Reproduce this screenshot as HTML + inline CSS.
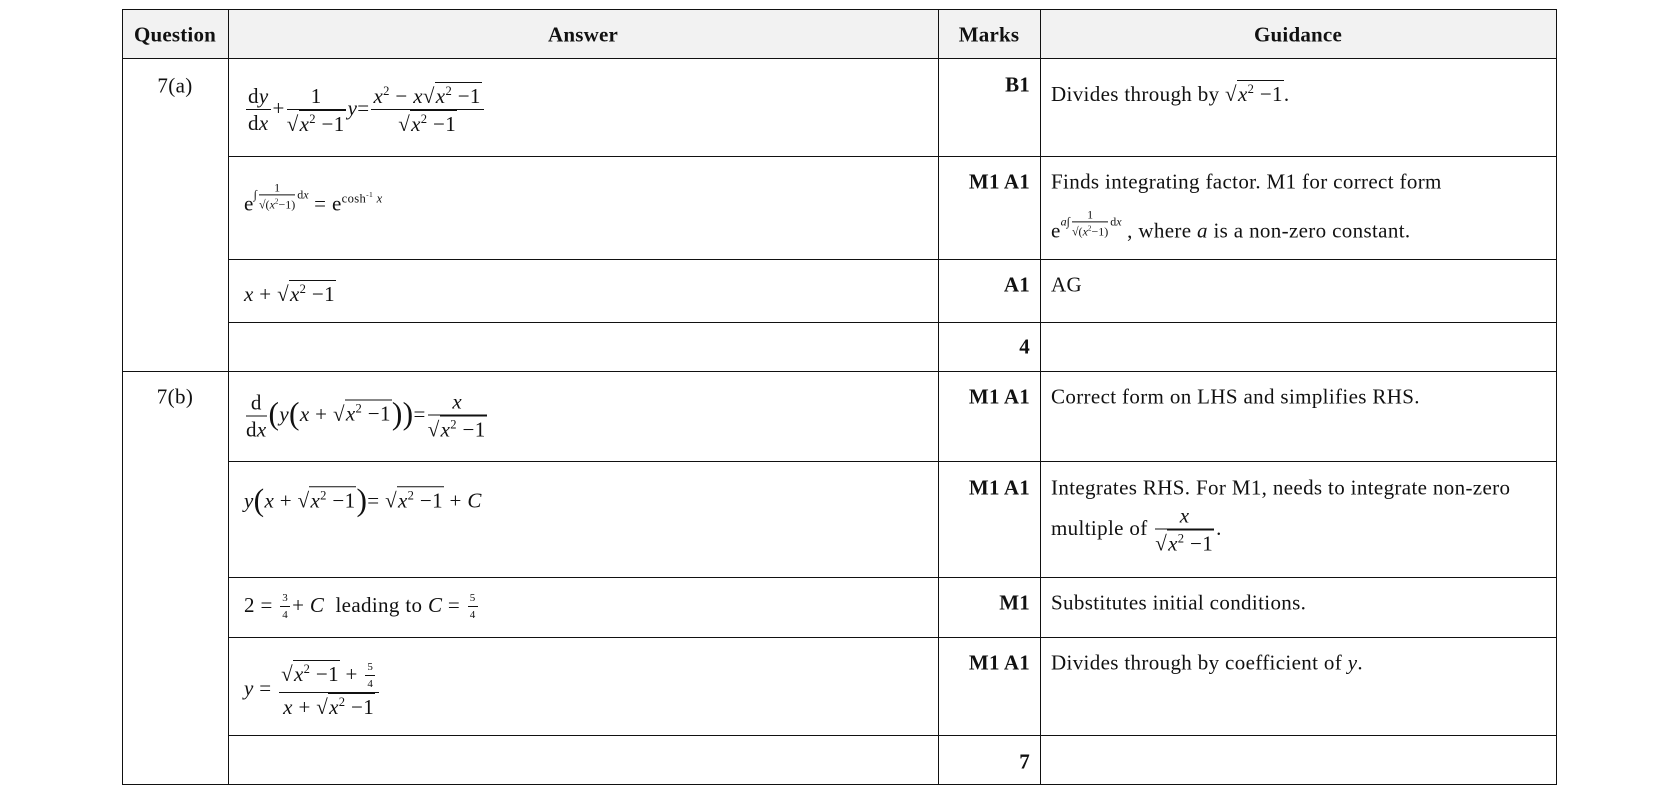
<!DOCTYPE html>
<html><head><meta charset="utf-8"><style>
body{margin:0;width:1680px;height:796px;background:#fff;position:relative;overflow:hidden;font-family:"Liberation Serif",serif;font-size:21px;letter-spacing:0.35px;color:#111}
.h{position:absolute;background:#111;height:1.3px}
.v{position:absolute;background:#111;width:1.3px}
.c{position:absolute;transform:translateY(-50%);white-space:nowrap;line-height:1}
.b{font-weight:bold;letter-spacing:0.2px}
.r{text-align:right}
i{font-style:italic}
.fr{display:inline-flex;flex-direction:column;vertical-align:middle;text-align:center;margin:0 2px}
.fr>span:first-child{border-bottom:1.3px solid #111;padding:0 2px 2px}
.fr>span:last-child{padding-top:3px}
.sq{border-top:1.3px solid #111;padding:1px 1px 0}
.sm{font-size:12px;letter-spacing:0}
.sm .fr>span:first-child{padding:0 1px 1px}
sup{font-size:0.6em}
.p{font-size:1.5em;vertical-align:-3px}
</style></head><body>
<div style="position:absolute;left:122px;top:10px;width:1434px;height:48px;background:#f2f2f2"></div>
<div class="h" style="left:122px;top:9px;width:1435px"></div>
<div class="h" style="left:122px;top:58px;width:1435px"></div>
<div class="h" style="left:228px;top:156px;width:1329px"></div>
<div class="h" style="left:228px;top:259px;width:1329px"></div>
<div class="h" style="left:228px;top:322px;width:1329px"></div>
<div class="h" style="left:122px;top:371px;width:1435px"></div>
<div class="h" style="left:228px;top:461px;width:1329px"></div>
<div class="h" style="left:228px;top:577px;width:1329px"></div>
<div class="h" style="left:228px;top:637px;width:1329px"></div>
<div class="h" style="left:228px;top:735px;width:1329px"></div>
<div class="h" style="left:122px;top:784px;width:1435px"></div>
<div class="v" style="left:122px;top:9px;height:776px"></div>
<div class="v" style="left:228px;top:9px;height:776px"></div>
<div class="v" style="left:938px;top:9px;height:776px"></div>
<div class="v" style="left:1040px;top:9px;height:776px"></div>
<div class="v" style="left:1556px;top:9px;height:776px"></div>

<div class="c b" style="left:122px;width:106px;text-align:center;top:35px">Question</div>
<div class="c b" style="left:228px;width:710px;text-align:center;top:35px">Answer</div>
<div class="c b" style="left:938px;width:102px;text-align:center;top:35px">Marks</div>
<div class="c b" style="left:1040px;width:516px;text-align:center;top:35px">Guidance</div>

<div class="c" style="left:122px;width:106px;text-align:center;top:86px">7(a)</div>
<div class="c" style="left:244px;top:110px"><span class="fr"><span>d<i>y</i></span><span>d<i>x</i></span></span>+<span class="fr"><span>1</span><span>√<span class="sq"><i>x</i><sup>2</sup> −1</span></span></span><i>y</i>=<span class="fr"><span><i>x</i><sup>2</sup> − <i>x</i>√<span class="sq"><i>x</i><sup>2</sup> −1</span></span><span>√<span class="sq"><i>x</i><sup>2</sup> −1</span></span></span></div>
<div class="c b r" style="left:938px;width:92px;top:85px">B1</div>
<div class="c" style="left:1051px;top:94px">Divides through by √<span class="sq"><i>x</i><sup>2</sup> −1</span>.</div>

<div class="c" style="left:244px;top:198px">e<span class="sm" style="vertical-align:12px">∫<span class="fr"><span>1</span><span>√(<i>x</i><sup>2</sup>−1)</span></span>d<i>x</i></span> = e<sup>cosh<sup>-1</sup> <i>x</i></sup></div>
<div class="c b r" style="left:938px;width:92px;top:182px">M1 A1</div>
<div class="c" style="left:1051px;top:182px">Finds integrating factor. M1 for correct form</div>
<div class="c" style="left:1051px;top:225px">e<span class="sm" style="vertical-align:12px"><i>a</i>∫<span class="fr"><span>1</span><span>√(<i>x</i><sup>2</sup>−1)</span></span>d<i>x</i></span> , where <i>a</i> is a non-zero constant.</div>

<div class="c" style="left:244px;top:294px"><i>x</i> + √<span class="sq"><i>x</i><sup>2</sup> −1</span></div>
<div class="c b r" style="left:938px;width:92px;top:285px">A1</div>
<div class="c" style="left:1051px;top:285px">AG</div>

<div class="c b r" style="left:938px;width:92px;top:347px">4</div>

<div class="c" style="left:122px;width:106px;text-align:center;top:397px">7(b)</div>
<div class="c" style="left:244px;top:416px"><span class="fr"><span>d</span><span>d<i>x</i></span></span><span class="p">(</span><i>y</i><span class="p">(</span><i>x</i> + √<span class="sq"><i>x</i><sup>2</sup> −1</span><span class="p">))</span>=<span class="fr"><span><i>x</i></span><span>√<span class="sq"><i>x</i><sup>2</sup> −1</span></span></span></div>
<div class="c b r" style="left:938px;width:92px;top:397px">M1 A1</div>
<div class="c" style="left:1051px;top:397px">Correct form on LHS and simplifies RHS.</div>

<div class="c" style="left:244px;top:500px"><i>y</i><span class="p">(</span><i>x</i> + √<span class="sq"><i>x</i><sup>2</sup> −1</span><span class="p">)</span>= √<span class="sq"><i>x</i><sup>2</sup> −1</span> + <i>C</i></div>
<div class="c b r" style="left:938px;width:92px;top:488px">M1 A1</div>
<div class="c" style="left:1051px;top:488px">Integrates RHS. For M1, needs to integrate non-zero</div>
<div class="c" style="left:1051px;top:530px">multiple of <span class="fr"><span><i>x</i></span><span>√<span class="sq"><i>x</i><sup>2</sup> −1</span></span></span>.</div>

<div class="c" style="left:244px;top:607px">2 = <span class="fr" style="font-size:11px"><span>3</span><span>4</span></span>+ <i>C</i> &nbsp;leading to <i>C</i> = <span class="fr" style="font-size:11px"><span>5</span><span>4</span></span></div>
<div class="c b r" style="left:938px;width:92px;top:603px">M1</div>
<div class="c" style="left:1051px;top:603px">Substitutes initial conditions.</div>

<div class="c" style="left:244px;top:690px"><i>y</i> = <span class="fr"><span>√<span class="sq"><i>x</i><sup>2</sup> −1</span> + <span class="fr" style="font-size:11px"><span>5</span><span>4</span></span></span><span><i>x</i> + √<span class="sq"><i>x</i><sup>2</sup> −1</span></span></span></div>
<div class="c b r" style="left:938px;width:92px;top:663px">M1 A1</div>
<div class="c" style="left:1051px;top:663px">Divides through by coefficient of <i>y</i>.</div>

<div class="c b r" style="left:938px;width:92px;top:762px">7</div>
</body></html>
